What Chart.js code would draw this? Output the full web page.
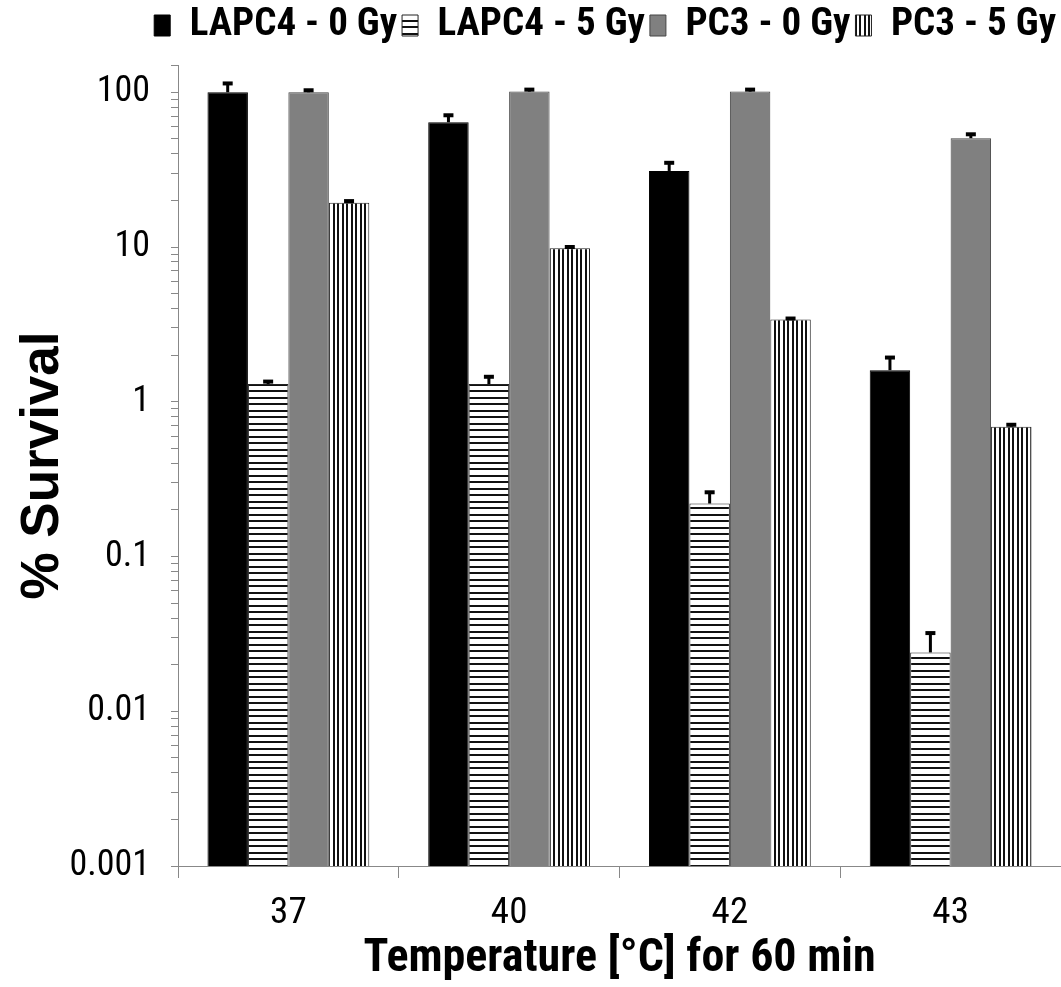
<!DOCTYPE html>
<html>
<head>
<meta charset="utf-8">
<script src="https://cdn.jsdelivr.net/npm/chart.js@4/dist/chart.umd.min.js"></script>
<style>
  html, body { margin: 0; padding: 0; background: #fff; }
  #wrap { width: 1061px; height: 987px; }
</style>
</head>
<body>
<div id="wrap"><canvas id="grafico"></canvas></div>
<script>
// dados
var temperaturas = ['37', '40', '42', '43'];
var lapc4_0Gy = [100, 64, 31, 1.6];
var lapc4_0GyErro = [14, 7, 4, 0.33];
var lapc4_5Gy = [1.3, 1.3, 0.22, 0.024];
var lapc4_5GyErro = [0.05, 0.15, 0.04, 0.008];
var pc3_0Gy = [100, 101, 101, 50.5];
var pc3_0GyErro = [3, 3, 3, 3];
var pc3_5Gy = [19.3, 9.8, 3.4, 0.69];
var pc3_5GyErro = [0.5, 0.2, 0.05, 0.02];
var rotulosY = ['0.001', '0.01', '0.1', '1', '10', '100'];
var maxY = 150;

var fonteNarrow = "'Roboto Condensed', 'Liberation Sans Narrow', sans-serif";
var fonteNormal = "'Liberation Sans', Arial, sans-serif";

function criarListras(horizontal) {
    var c = document.createElement('canvas');
    var ctx = c.getContext('2d');
    if (horizontal) {
        c.width = 8; c.height = 13;
        ctx.fillStyle = '#fff';
        ctx.fillRect(0, 0, 8, 13);
        ctx.fillStyle = '#111';
        ctx.fillRect(0, 0, 8, 2);
        ctx.fillRect(0, 7, 8, 2);
    } else {
        c.width = 9; c.height = 8;
        ctx.fillStyle = '#fff';
        ctx.fillRect(0, 0, 9, 8);
        ctx.fillStyle = '#111';
        ctx.fillRect(0, 0, 2, 8);
        ctx.fillRect(4, 0, 2, 8);
    }
    return document.getElementById('grafico').getContext('2d').createPattern(c, 'repeat');
}

// espaco extra entre a legenda e a area do grafico
var margemLegenda = {
    id: 'margemLegenda',
    beforeInit: function(chart) {
        var fitOriginal = chart.legend.fit;
        chart.legend.fit = function() {
            fitOriginal.bind(chart.legend)();
            this.height += 10;
        };
    }
};

// barras de erro (somente para cima)
var barrasDeErro = {
    id: 'barrasDeErro',
    afterDatasetsDraw: function(chart) {
        var ctx = chart.ctx;
        var escala = chart.scales.y;
        ctx.save();
        ctx.strokeStyle = '#000';
        chart.data.datasets.forEach(function(ds, i) {
            var meta = chart.getDatasetMeta(i);
            meta.data.forEach(function(barra, j) {
                var v = ds.data[j];
                var y0 = escala.getPixelForValue(v);
                var y1 = escala.getPixelForValue(v + ds.erros[j]);
                ctx.lineWidth = 3;
                ctx.beginPath();
                ctx.moveTo(barra.x, y0);
                ctx.lineTo(barra.x, y1);
                ctx.stroke();
                ctx.lineWidth = 4;
                ctx.beginPath();
                ctx.moveTo(barra.x - 5, y1);
                ctx.lineTo(barra.x + 5, y1);
                ctx.stroke();
            });
        });
        ctx.restore();
    }
};

var grafico = new Chart(document.getElementById('grafico'), {
    type: 'bar',
    data: {
        labels: temperaturas,
        datasets: [{
            label: 'LAPC4 - 0 Gy',
            data: lapc4_0Gy,
            erros: lapc4_0GyErro,
            backgroundColor: '#000',
            borderColor: '#000'
        }, {
            label: 'LAPC4 - 5 Gy',
            data: lapc4_5Gy,
            erros: lapc4_5GyErro,
            backgroundColor: criarListras(true),
            borderColor: '#222'
        }, {
            label: 'PC3 - 0 Gy',
            data: pc3_0Gy,
            erros: pc3_0GyErro,
            backgroundColor: '#808080',
            borderColor: '#444'
        }, {
            label: 'PC3 - 5 Gy',
            data: pc3_5Gy,
            erros: pc3_5GyErro,
            backgroundColor: criarListras(false),
            borderColor: '#222'
        }]
    },
    options: {
        responsive: true,
        maintainAspectRatio: false,
        animation: false,
        datasets: {
            bar: {
                borderWidth: 1,
                categoryPercentage: 0.733,
                barPercentage: 1
            }
        },
        layout: { padding: { left: 0, right: 0, top: 1, bottom: 0 } },
        plugins: {
            tooltip: { enabled: false },
            legend: {
                position: 'top',
                align: 'end',
                labels: {
                    color: '#000',
                    font: { family: fonteNarrow, size: 39, weight: 'bold' },
                    boxWidth: 16,
                    boxHeight: 21,
                    padding: 5
                }
            }
        },
        scales: {
            x: {
                afterFit: function(escala) { escala.height = 121; },
                grid: { drawOnChartArea: false, drawTicks: true, tickLength: 12, color: '#888', offset: true },
                border: { color: '#888', width: 1 },
                ticks: {
                    color: '#000',
                    padding: 14,
                    font: { family: fonteNarrow, size: 37 }
                },
                title: {
                    display: true,
                    text: 'Temperature [°C] for 60 min',
                    color: '#000',
                    font: { family: fonteNarrow, size: 46, weight: 'bold' },
                    padding: { top: 0, bottom: 0 }
                }
            },
            y: {
                type: 'logarithmic',
                min: 0.001,
                max: maxY,
                afterFit: function(escala) { escala.width = 178; },
                afterBuildTicks: function(escala) {
                    var ticks = [];
                    rotulosY.forEach(function(r) {
                        var base = parseFloat(r);
                        for (var k = 1; k <= 9; k++) {
                            if (base * k <= maxY && (k === 1 || r !== '100')) ticks.push({ value: base * k });
                        }
                    });
                    ticks.push({ value: maxY });
                    escala.ticks = ticks;
                },
                grid: { drawOnChartArea: false, drawTicks: true, tickLength: 7, color: '#888' },
                border: { color: '#888', width: 1 },
                ticks: {
                    autoSkip: false,
                    color: '#000',
                    padding: 21,
                    font: { family: fonteNarrow, size: 36 },
                    callback: function(valor) {
                        var i = rotulosY.map(parseFloat).indexOf(valor);
                        return i >= 0 ? rotulosY[i] : '';
                    }
                },
                title: {
                    display: true,
                    text: '% Survival',
                    color: '#000',
                    font: { family: fonteNormal, size: 53, weight: 'bold' },
                    padding: { top: 12, bottom: 0 }
                }
            }
        }
    },
    plugins: [barrasDeErro, margemLegenda]
});
</script>
</body>
</html>
